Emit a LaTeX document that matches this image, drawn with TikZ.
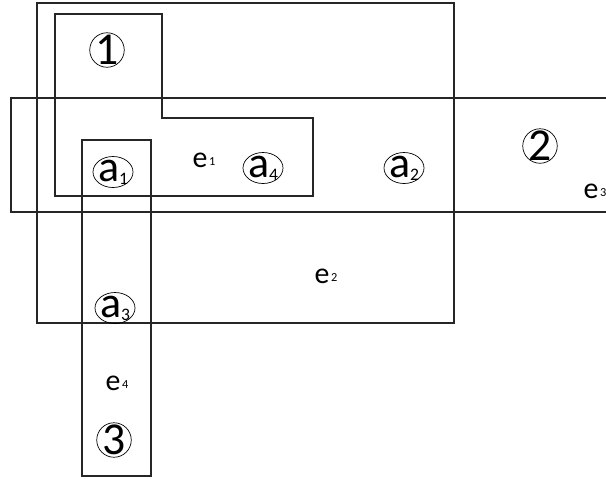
\documentclass[tikz,border=0pt]{standalone}
\usepackage{fontspec}
\setmainfont{Carlito}
\usepackage{tikz}
\usetikzlibrary{shapes.geometric}
\newcommand{\lowsub}[1]{\raisebox{-0.15ex}{\fontsize{10}{10}\selectfont #1}}
\newcommand{\esub}[1]{\hspace{1pt}\raisebox{0.1ex}{\fontsize{7}{7}\selectfont #1}}

\begin{document}
\begin{tikzpicture}[
        x=0.2mm, y=-0.2mm,
        vertex/.style={
            draw,
            ellipse,
            inner sep=-3pt,
            minimum width=8mm,
            minimum height=6.2mm,
            font=\fontsize{25}{25}\selectfont
        },
        part/.style={
            draw,
            circle,
            inner sep=-4pt,
            minimum size=6.9mm,
            font=\fontsize{26}{26}\selectfont
        },
        elabel/.style={
            font=\fontsize{17}{17}\selectfont
        },
        hyper/.style={
            draw=black!85,
            line width=0.8pt
        }
    ]

    \useasboundingbox (0,0) rectangle (606,478);
    \clip (0,0) rectangle (606,478);

    % hyperedges
    \draw[hyper] (37,3) rectangle (454,323);
    \draw[hyper] (11,98) rectangle (620,212);
    \draw[hyper] (55,14) -- (162,14) -- (162,118) -- (313,118) -- (313,196) -- (55,196) -- cycle;
    \draw[hyper] (82,140) rectangle (151,476);

    % vertices
    \node[vertex] (a1) at (113,172) {a\lowsub{1}};
    \node[vertex] (a4) at (263,168) {a\lowsub{4}};
    \node[vertex] (a2) at (404,168) {a\lowsub{2}};
    \node[vertex] (a3) at (115,308) {a\lowsub{3}};

    % parts
    \node[part] (p1) at (107,50) {1};
    \node[part] (p2) at (540,146) {2};
    \node[part] (p3) at (114,440) {3};

    % edge labels
    \node[elabel] (e1) at (204,160) {e\esub{1}};
    \node[elabel] (e2) at (326,276) {e\esub{2}};
    \node[elabel] (e3) at (595,191) {e\esub{3}};
    \node[elabel] (e4) at (117,383) {e\esub{4}};

\end{tikzpicture}
\end{document}
